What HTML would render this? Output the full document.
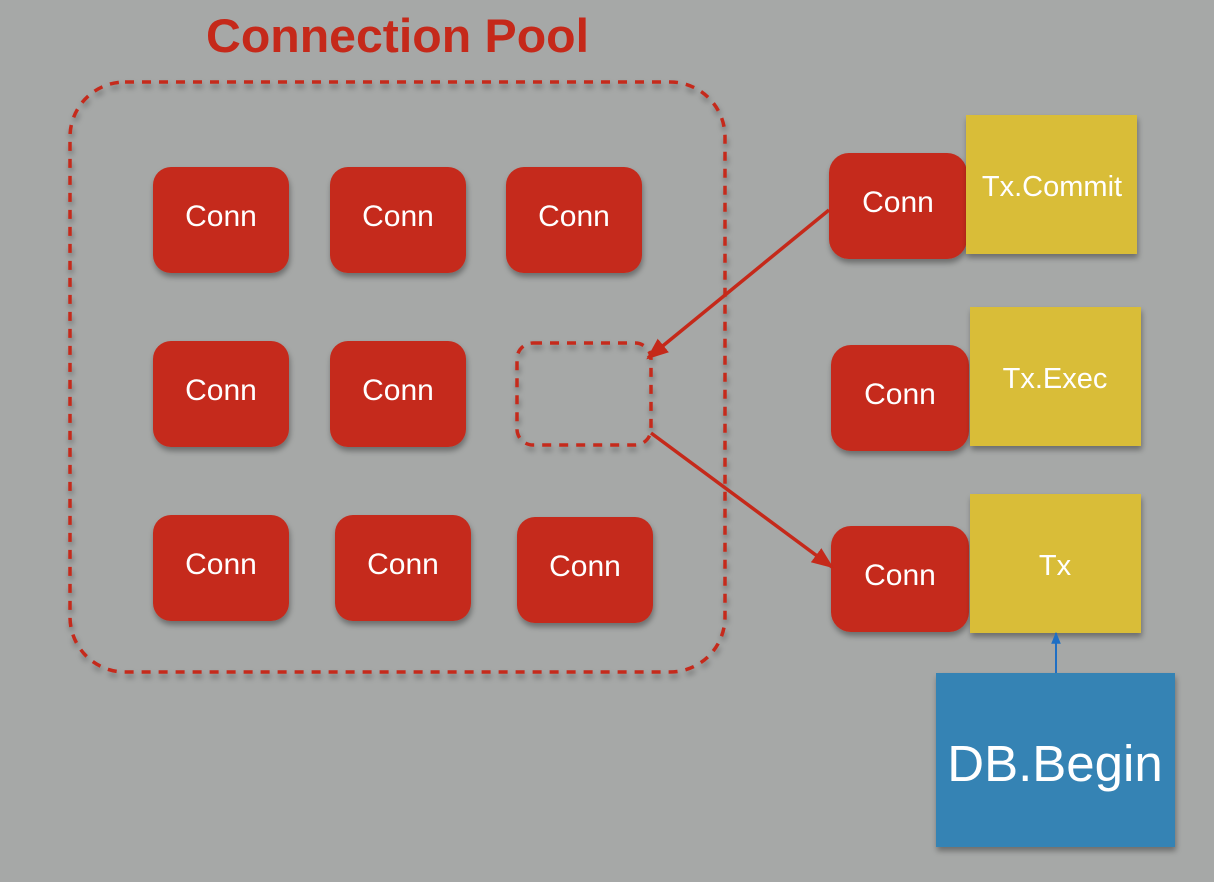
<!DOCTYPE html>
<html><head><meta charset="utf-8"><style>
html,body{margin:0;padding:0;background:#a6a8a7;}
svg{display:block;}
text{font-family:"Liberation Sans",sans-serif;fill:#fff;}
</style></head><body>
<svg width="1214" height="882" viewBox="0 0 1214 882" xmlns="http://www.w3.org/2000/svg">
<defs>
<filter id="sh" x="-20%" y="-20%" width="140%" height="150%">
<feDropShadow dx="1" dy="4" stdDeviation="3" flood-color="#000" flood-opacity="0.35"/>
</filter>
<marker id="ar2" viewBox="0 0 10 10" refX="9" refY="5" markerWidth="22" markerHeight="22" orient="auto" markerUnits="userSpaceOnUse">
<path d="M0,1 L10,5 L0,9 z" fill="#c5291a"/>
</marker>
<marker id="ab" viewBox="0 0 10 10" refX="9" refY="5" markerWidth="12" markerHeight="12" orient="auto" markerUnits="userSpaceOnUse">
<path d="M0,1 L10,5 L0,9 z" fill="#1f6fc4"/>
</marker>
</defs>

<text x="206" y="52" font-size="47" font-weight="bold" style="fill:#c5291a" textLength="383" lengthAdjust="spacingAndGlyphs">Connection Pool</text>

<rect x="70" y="82" width="655" height="590" rx="55" fill="none" stroke="#c5291a" stroke-width="3.5" stroke-dasharray="9 8" filter="url(#sh)"/>

<g filter="url(#sh)" fill="#c5291a">
<rect x="153" y="167" width="136" height="106" rx="18"/>
<rect x="330" y="167" width="136" height="106" rx="18"/>
<rect x="506" y="167" width="136" height="106" rx="18"/>
<rect x="153" y="341" width="136" height="106" rx="18"/>
<rect x="330" y="341" width="136" height="106" rx="18"/>
<rect x="153" y="515" width="136" height="106" rx="18"/>
<rect x="335" y="515" width="136" height="106" rx="18"/>
<rect x="517" y="517" width="136" height="106" rx="18"/>
<rect x="829" y="153" width="138" height="106" rx="20"/>
<rect x="831" y="345" width="138" height="106" rx="20"/>
<rect x="831" y="526" width="138" height="106" rx="20"/>
</g>
<rect x="517" y="343" width="134" height="102" rx="16" fill="none" stroke="#c5291a" stroke-width="3.5" stroke-dasharray="9 8" filter="url(#sh)"/>

<g filter="url(#sh)" fill="#d9bd38">
<rect x="966" y="115" width="171" height="139"/>
<rect x="970" y="307" width="171" height="139"/>
<rect x="970" y="494" width="171" height="139"/>
</g>
<rect x="936" y="673" width="239" height="174" fill="#3683b4" filter="url(#sh)"/>

<g font-size="30" text-anchor="middle">
<text x="221" y="226">Conn</text>
<text x="398" y="226">Conn</text>
<text x="574" y="226">Conn</text>
<text x="221" y="400">Conn</text>
<text x="398" y="400">Conn</text>
<text x="221" y="574">Conn</text>
<text x="403" y="574">Conn</text>
<text x="585" y="576">Conn</text>
<text x="898" y="212">Conn</text>
<text x="900" y="404">Conn</text>
<text x="900" y="585">Conn</text>
</g>
<g font-size="29" text-anchor="middle">
<text x="1052" y="196">Tx.Commit</text>
<text x="1055" y="388">Tx.Exec</text>
<text x="1055" y="575">Tx</text>
</g>
<text x="1055" y="781" font-size="51" text-anchor="middle">DB.Begin</text>

<line x1="829" y1="210" x2="648" y2="358" stroke="#c5291a" stroke-width="3.5" marker-end="url(#ar2)"/>
<line x1="651" y1="433" x2="832" y2="567" stroke="#c5291a" stroke-width="3.5" marker-end="url(#ar2)"/>
<line x1="1056" y1="673" x2="1056" y2="633" stroke="#1f6fc4" stroke-width="2" marker-end="url(#ab)"/>
</svg>
</body></html>
